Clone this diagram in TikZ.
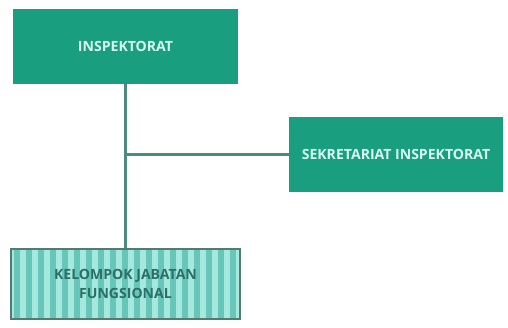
\documentclass[tikz,border=0pt]{standalone}
\usepackage{fontspec}
\setmainfont{Open Sans}
\usepackage{tikz}
\usetikzlibrary{positioning}
\definecolor{boxgreen}{HTML}{1A9E80}
\definecolor{boxtext}{HTML}{D8F8F2}
\definecolor{linegray}{HTML}{4E8A80}
\definecolor{stripedark}{HTML}{66C6B7}
\definecolor{stripelight}{HTML}{A6E8DD}
\definecolor{fungtext}{HTML}{2E6E68}
\definecolor{fungborder}{HTML}{527C6E}

\begin{document}
\begin{tikzpicture}[x=0.02cm, y=-0.02cm,
    unit/.style={fill=boxgreen, text=boxtext, font=\fontsize{8}{9}\selectfont\bfseries,
        minimum height=1.5cm, inner sep=0pt}, % kotak hijau
    fungsional/.style={draw=fungborder, line width=0.9pt, fill=stripelight, text=fungtext,
        font=\fontsize{8}{10.5}\selectfont\bfseries, align=center,
        minimum width=4.58cm, minimum height=1.4cm, inner sep=0pt,
        path picture={
            \foreach \i in {0,...,19}
                \fill[stripedark] ([xshift=\i*0.24cm+0.06cm]path picture bounding box.south west) rectangle ++(0.12cm,1.5cm);
        }},
    garis/.style={draw=linegray, line width=1.2pt}
    ]
\useasboundingbox (0,0) rectangle (508,328);

\node[unit, minimum width=4.5cm] (insp) at (125.5,46.5) {INSPEKTORAT};
\node[unit, minimum width=4.28cm] (sekr) at (396,154.5) {SEKRETARIAT\ INSPEKTORAT};
\node[fungsional] (kjf) at (125.5,284) {KELOMPOK JABATAN\\FUNGSIONAL};

\coordinate (cabang) at (insp.south |- sekr.west);
\draw[garis] (insp.south) -- (kjf.north);
\draw[garis] (cabang) -- (sekr.west);
\end{tikzpicture}
\end{document}
